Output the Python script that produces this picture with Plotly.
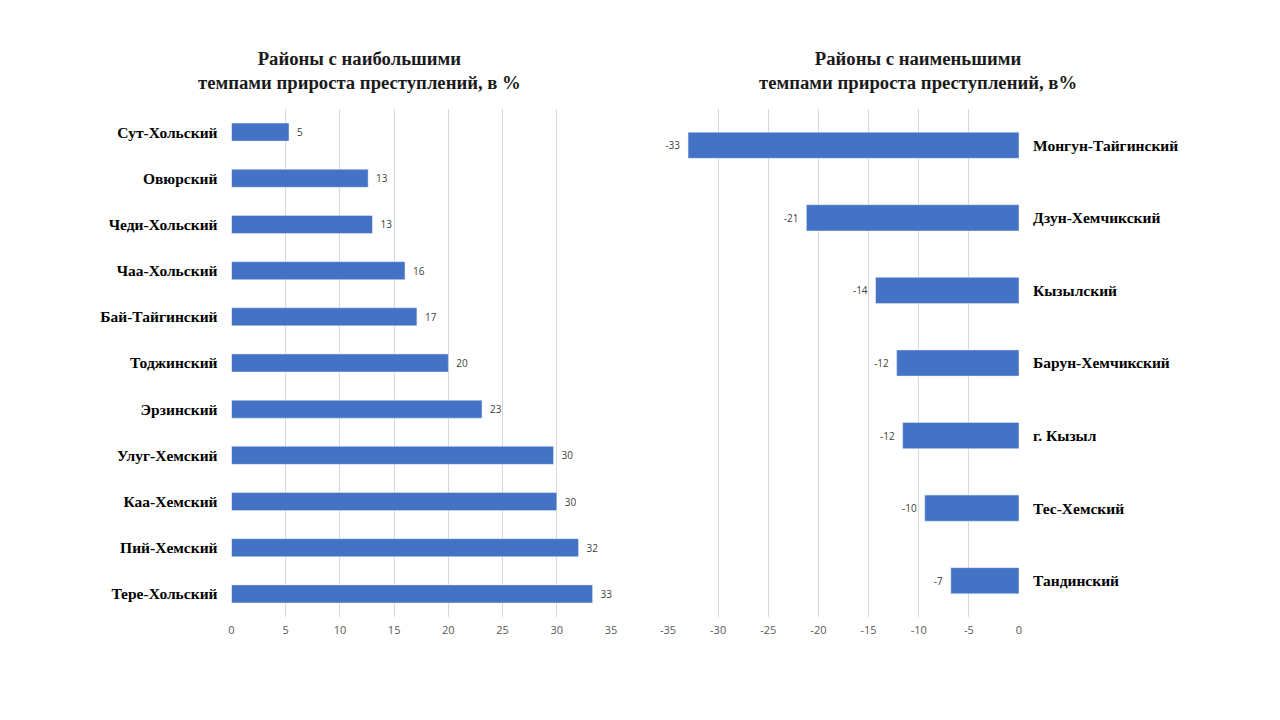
import plotly.graph_objects as go

left_cats = ["Сут-Хольский", "Овюрский", "Чеди-Хольский", "Чаа-Хольский", "Бай-Тайгинский",
             "Тоджинский", "Эрзинский", "Улуг-Хемский", "Каа-Хемский", "Пий-Хемский", "Тере-Хольский"]
left_vals = [5.3, 12.6, 13.0, 16.0, 17.1, 20.0, 23.1, 29.7, 30.0, 32.0, 33.3]
left_labels = ["5", "13", "13", "16", "17", "20", "23", "30", "30", "32", "33"]

right_cats = ["Монгун-Тайгинский", "Дзун-Хемчикский", "Кызылский", "Барун-Хемчикский",
              "г. Кызыл", "Тес-Хемский", "Тандинский"]
right_vals = [-33.0, -21.2, -14.3, -12.2, -11.6, -9.4, -6.8]
right_labels = ["-33", "-21", "-14", "-12", "-12", "-10", "-7"]

left_ticks = [0, 5, 10, 15, 20, 25, 30, 35]
right_ticks = [-35, -30, -25, -20, -15, -10, -5, 0]
right_tick_text = ["-35", "-30", "-25", "-20", "-15", "-10", "-5", "0"]

title_left = "Районы с наибольшими<br>темпами прироста преступлений, в %"
title_right = "Районы с наименьшими<br>темпами прироста преступлений, в%"

BAR = "#4472C4"
GRID = "#d9d9d9"
SERIF = "Liberation Serif"
SANS = "Open Sans"

fig = go.Figure()
fig.add_trace(go.Bar(
    y=left_cats, x=left_vals, orientation="h", marker_color=BAR, width=0.39,
    text=["\u2002" + t for t in left_labels], textposition="outside", cliponaxis=False,
    textfont=dict(family=SANS, size=10, color="#404040"),
    xaxis="x", yaxis="y", showlegend=False, hoverinfo="x+y"))
fig.add_trace(go.Bar(
    y=right_cats, x=right_vals, orientation="h", marker_color=BAR, width=0.36,
    text=[t + "\u2002" for t in right_labels], textposition="outside", cliponaxis=False,
    textfont=dict(family=SANS, size=10, color="#404040"),
    xaxis="x2", yaxis="y2", showlegend=False, hoverinfo="x+y"))

fig.update_layout(
    width=1280, height=720, margin=dict(l=0, r=0, t=0, b=0),
    paper_bgcolor="white", plot_bgcolor="white",
    xaxis=dict(domain=[231.5/1280, 611/1280], range=[0, 35], tickvals=left_ticks,
               showgrid=True, gridcolor=GRID, gridwidth=1, zeroline=False,
               showline=False, anchor="y", automargin=False, ticklabelstandoff=5,
               tickfont=dict(family=SANS, size=11, color="#595959")),
    yaxis=dict(domain=[1-617/720, 1-109/720], autorange="reversed", anchor="x",
               showgrid=False, zeroline=False, showline=False, ticklabelstandoff=13,
               automargin=False,
               tickfont=dict(family=SERIF, size=15.5, color="black", weight="bold")),
    xaxis2=dict(domain=[668/1280, 1019/1280], range=[-35, 0], tickvals=right_ticks,
                ticktext=right_tick_text,
                showgrid=True, gridcolor=GRID, gridwidth=1, zeroline=False,
                showline=False, anchor="y2", automargin=False, ticklabelstandoff=5,
                tickfont=dict(family=SANS, size=11, color="#595959")),
    yaxis2=dict(domain=[1-617/720, 1-109/720], autorange="reversed", anchor="x2",
                side="right", showgrid=False, zeroline=False, showline=False,
                ticklabelstandoff=13, automargin=False,
                tickfont=dict(family=SERIF, size=15.5, color="black", weight="bold")),
    bargap=0.6,
    annotations=[
        dict(text=title_left, x=359/1280, y=1-71/720, xref="paper", yref="paper",
             showarrow=False, xanchor="center", yanchor="middle",
             font=dict(family=SERIF, size=18.7, color="#1a1a1a", weight="bold")),
        dict(text=title_right, x=918/1280, y=1-71/720, xref="paper", yref="paper",
             showarrow=False, xanchor="center", yanchor="middle",
             font=dict(family=SERIF, size=18.7, color="#1a1a1a", weight="bold")),
    ],
)

fig.write_html("out.html", config={"displayModeBar": False},
               post_script="document.body.style.margin='0';document.body.style.overflow='hidden';")
